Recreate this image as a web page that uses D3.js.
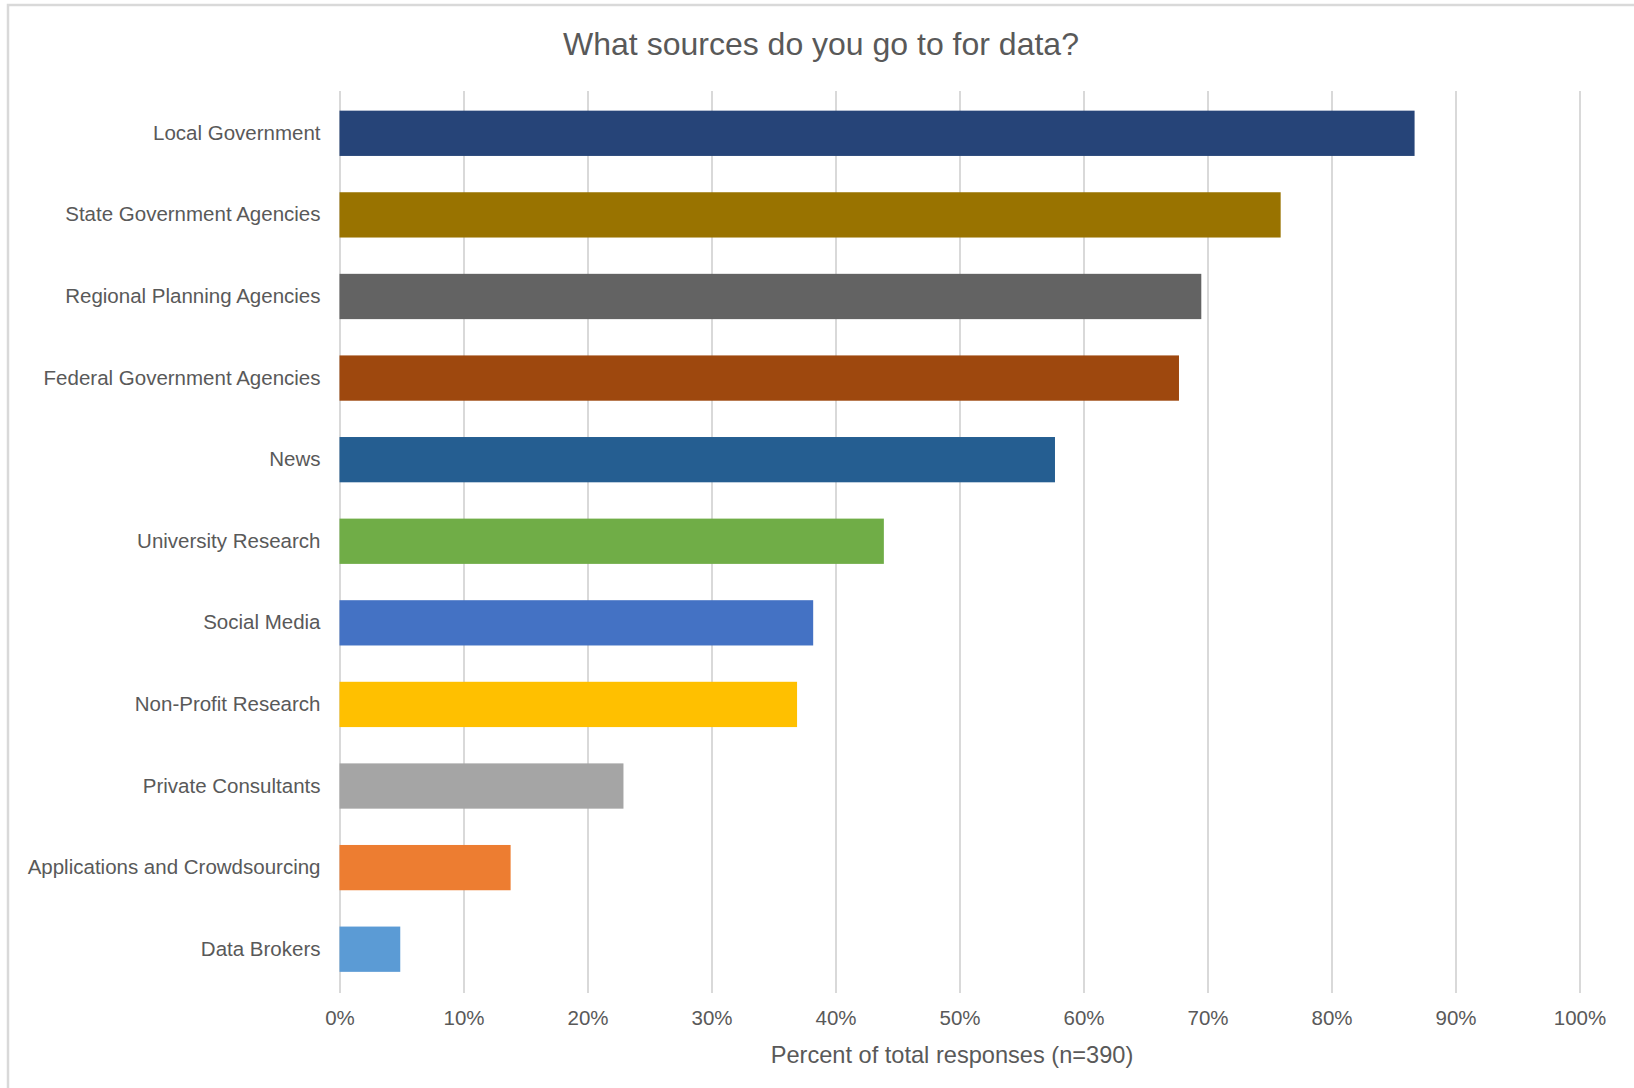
<!DOCTYPE html>
<html>
<head>
<meta charset="utf-8">
<script src="https://cdn.jsdelivr.net/npm/d3@7"></script>
<style>
  html, body { margin: 0; padding: 0; background: #fff; }
  svg { display: block; }
</style>
</head>
<body>
<svg id="chart" width="1634" height="1088"></svg>
<script>
const categories = [
  "Local Government",
  "State Government Agencies",
  "Regional Planning Agencies",
  "Federal Government Agencies",
  "News",
  "University Research",
  "Social Media",
  "Non-Profit Research",
  "Private Consultants",
  "Applications and Crowdsourcing",
  "Data Brokers"
];
const values = [86.7, 75.9, 69.5, 67.7, 57.7, 43.9, 38.2, 36.9, 22.9, 13.8, 4.9];
const barColors = ["#264478", "#997300", "#636363", "#9e480e", "#255e91", "#70ad47",
                   "#4472c4", "#ffc000", "#a5a5a5", "#ed7d31", "#5b9bd5"];
const tickValues = [0, 10, 20, 30, 40, 50, 60, 70, 80, 90, 100];
const tickLabels = ["0%", "10%", "20%", "30%", "40%", "50%", "60%", "70%", "80%", "90%", "100%"];
const title = "What sources do you go to for data?";
const xTitle = "Percent of total responses (n=390)";

const font = "'Liberation Sans', Arial, sans-serif";
const textColor = "#595959";
const svg = d3.select("#chart");

// chart border
svg.append("rect")
  .attr("x", 8).attr("y", 5).attr("width", 1660).attr("height", 1120)
  .attr("fill", "#fff").attr("stroke", "#d9d9d9").attr("stroke-width", 2.5);

const plotTop = 91, plotBottom = 993;
const x = d3.scaleLinear().domain([0, 100]).range([339.5, 1579.5]);
const y = d3.scaleBand().domain(categories).range([92.5, 990])
  .paddingInner(0.445).paddingOuter(0.2225);

// gridlines
const grid = svg.append("g").attr("transform", `translate(0,${plotBottom})`)
  .call(d3.axisBottom(x).tickValues(tickValues).tickSize(-(plotBottom - plotTop)).tickFormat(""));
grid.select(".domain").remove();
grid.selectAll(".tick line").attr("stroke", "#d9d9d9").attr("stroke-width", 2);

// bars
svg.append("g").selectAll("rect")
  .data(values)
  .join("rect")
  .attr("x", x(0))
  .attr("y", (d, i) => y(categories[i]))
  .attr("width", d => x(d) - x(0))
  .attr("height", y.bandwidth())
  .attr("fill", (d, i) => barColors[i]);

// x tick labels
const xAxis = svg.append("g").attr("transform", `translate(0,${plotBottom})`)
  .call(d3.axisBottom(x).tickValues(tickValues).tickSize(0)
    .tickFormat((d, i) => tickLabels[i]));
xAxis.select(".domain").remove();
xAxis.selectAll("text")
  .attr("y", 25).attr("dy", "0.35em")
  .attr("font-family", font).attr("font-size", "20.5px").attr("fill", textColor);

// y labels
const yAxis = svg.append("g").attr("transform", `translate(${x(0)},0)`)
  .call(d3.axisLeft(y).tickSize(0).tickPadding(19));
yAxis.select(".domain").remove();
yAxis.selectAll("text")
  .attr("font-family", font).attr("font-size", "20.5px").attr("fill", textColor);

// title
svg.append("text")
  .attr("x", 821).attr("y", 44).attr("dy", "0.35em")
  .attr("text-anchor", "middle")
  .attr("font-family", font).attr("font-size", "32px").attr("fill", textColor)
  .text(title);

// x axis title
svg.append("text")
  .attr("x", 952).attr("y", 1055).attr("dy", "0.35em")
  .attr("text-anchor", "middle")
  .attr("font-family", font).attr("font-size", "23.6px").attr("fill", textColor)
  .text(xTitle);
</script>
</body>
</html>
